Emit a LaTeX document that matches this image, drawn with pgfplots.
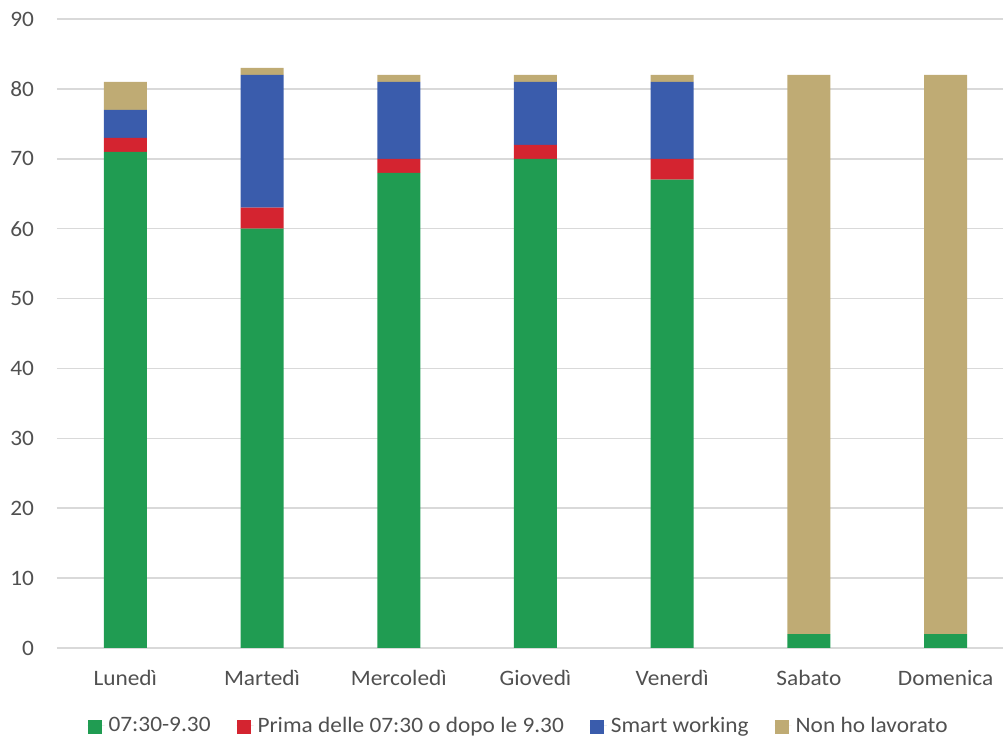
\documentclass[border=0pt]{standalone}
\usepackage{pgfplots}
\pgfplotsset{compat=1.18}
\usepackage{fontspec}
\setmainfont{Carlito}[FakeStretch=1.06]

\definecolor{cGreen}{RGB}{32,156,82}
\definecolor{cRed}{RGB}{212,36,48}
\definecolor{cBlue}{RGB}{58,92,172}
\definecolor{cTan}{RGB}{191,171,116}
\definecolor{cGrid}{RGB}{217,217,217}
\definecolor{cText}{RGB}{80,80,80}

\begin{document}
\begin{tikzpicture}
\path[use as bounding box] (-28.5pt,-45.5pt) rectangle (473pt,324pt);
\begin{axis}[
  at={(0,0)}, anchor=south west,
  scale only axis,
  width=473pt, height=314.5pt,
  ybar stacked,
  bar width=21.5pt,
  xmin=-0.5, xmax=6.42,
  ymin=0, ymax=90,
  ytick={0,10,...,90},
  xtick={0,...,6},
  xticklabels={Lunedì,Martedì,Mercoledì,Giovedì,Venerdì,Sabato,Domenica},
  major tick length=0pt,
  axis line style={draw=none},
  ymajorgrids,
  grid style={cGrid, line width=0.8pt},
  font=\fontsize{11}{13}\selectfont,
  tick label style={text=cText},
  /pgf/number format/assume math mode=true,
  xticklabel style={yshift=-7.5pt},
  yticklabel style={xshift=-8pt},
  legend style={
    at={(0.489,0)}, anchor=center, yshift=-39pt,
    draw=none, fill=none,
    legend columns=4,
    /tikz/every even column/.append style={column sep=11pt},
    text=cText, font=\fontsize{11}{13}\selectfont,
  },
  legend image code/.code={
    \path (0pt,0pt) -- (8.5pt,0pt);
    \fill[#1] (0pt,-4pt) rectangle (7pt,2.8pt);
  },
]
\addplot[fill=cGreen, draw=none] coordinates {(0,71) (1,60) (2,68) (3,70) (4,67) (5,2) (6,2)};
\addplot[fill=cRed, draw=none] coordinates {(0,2) (1,3) (2,2) (3,2) (4,3) (5,0) (6,0)};
\addplot[fill=cBlue, draw=none] coordinates {(0,4) (1,19) (2,11) (3,9) (4,11) (5,0) (6,0)};
\addplot[fill=cTan, draw=none] coordinates {(0,4) (1,1) (2,1) (3,1) (4,1) (5,80) (6,80)};
\legend{07:30-9.30, Prima delle 07:30 o dopo le 9.30, Smart working, Non ho lavorato}
\end{axis}
\end{tikzpicture}
\end{document}
